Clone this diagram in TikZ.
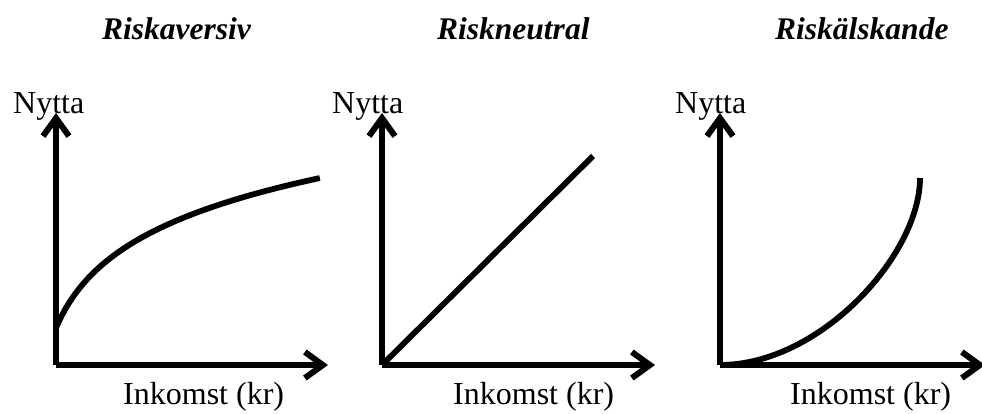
\documentclass[tikz,border=0pt]{standalone}
\usepackage{fontspec}
\setmainfont{Liberation Serif}
\usetikzlibrary{arrows.meta}
\begin{document}
\begin{tikzpicture}[x=1pt,y=-1pt,
  axis/.style={line width=6pt, -{Straight Barb[length=18pt,width=26pt]}},
  curve/.style={line width=5.8pt},
  ttl/.style={anchor=base west, inner sep=0pt, font=\fontsize{31.5}{36}\selectfont\bfseries\itshape},
  lbl/.style={anchor=base west, inner sep=0pt, font=\fontsize{32}{38}\selectfont}]
\useasboundingbox (0,0) rectangle (982,413);
% titles
\node[ttl] (t1) at (102,39) {Riskaversiv};
\node[ttl] (t2) at (437,39) {Riskneutral};
\node[ttl] (t3) at (775,39) {Riskälskande};
% axis labels
\node[lbl] (n1) at (13,113) {Nytta};
\node[lbl] (n2) at (332,113) {Nytta};
\node[lbl] (n3) at (675,113) {Nytta};
\node[lbl] (i1) at (123,404) {Inkomst (kr)};
\node[lbl] (i2) at (453,404) {Inkomst (kr)};
\node[lbl] (i3) at (790,404) {Inkomst (kr)};
% panel 1
\coordinate (o1) at (56,365);
\coordinate (y1) at (56,113);
\coordinate (x1) at (328,365);
\draw[axis] (o1) -- (y1);
\draw[axis] (o1) -- (x1);
\draw[curve] plot[domain=0:1, samples=80] ({56+264*\x},{328-150*ln(1+10*\x)/ln(11)});
% panel 2
\coordinate (o2) at (382,365);
\coordinate (y2) at (382,113);
\coordinate (x2) at (655,365);
\coordinate (e2) at (593,156);
\draw[axis] (o2) -- (y2);
\draw[axis] (o2) -- (x2);
\draw[curve] (o2) -- (e2);
% panel 3
\coordinate (o3) at (720,365);
\coordinate (y3) at (720,113);
\coordinate (x3) at (985,365);
\coordinate (e3) at (920,178);
\draw[axis] (o3) -- (y3);
\draw[axis] (o3) -- (x3);
\draw[curve] (o3) .. controls (820,365) and (920,255) .. (e3);
\end{tikzpicture}
\end{document}
